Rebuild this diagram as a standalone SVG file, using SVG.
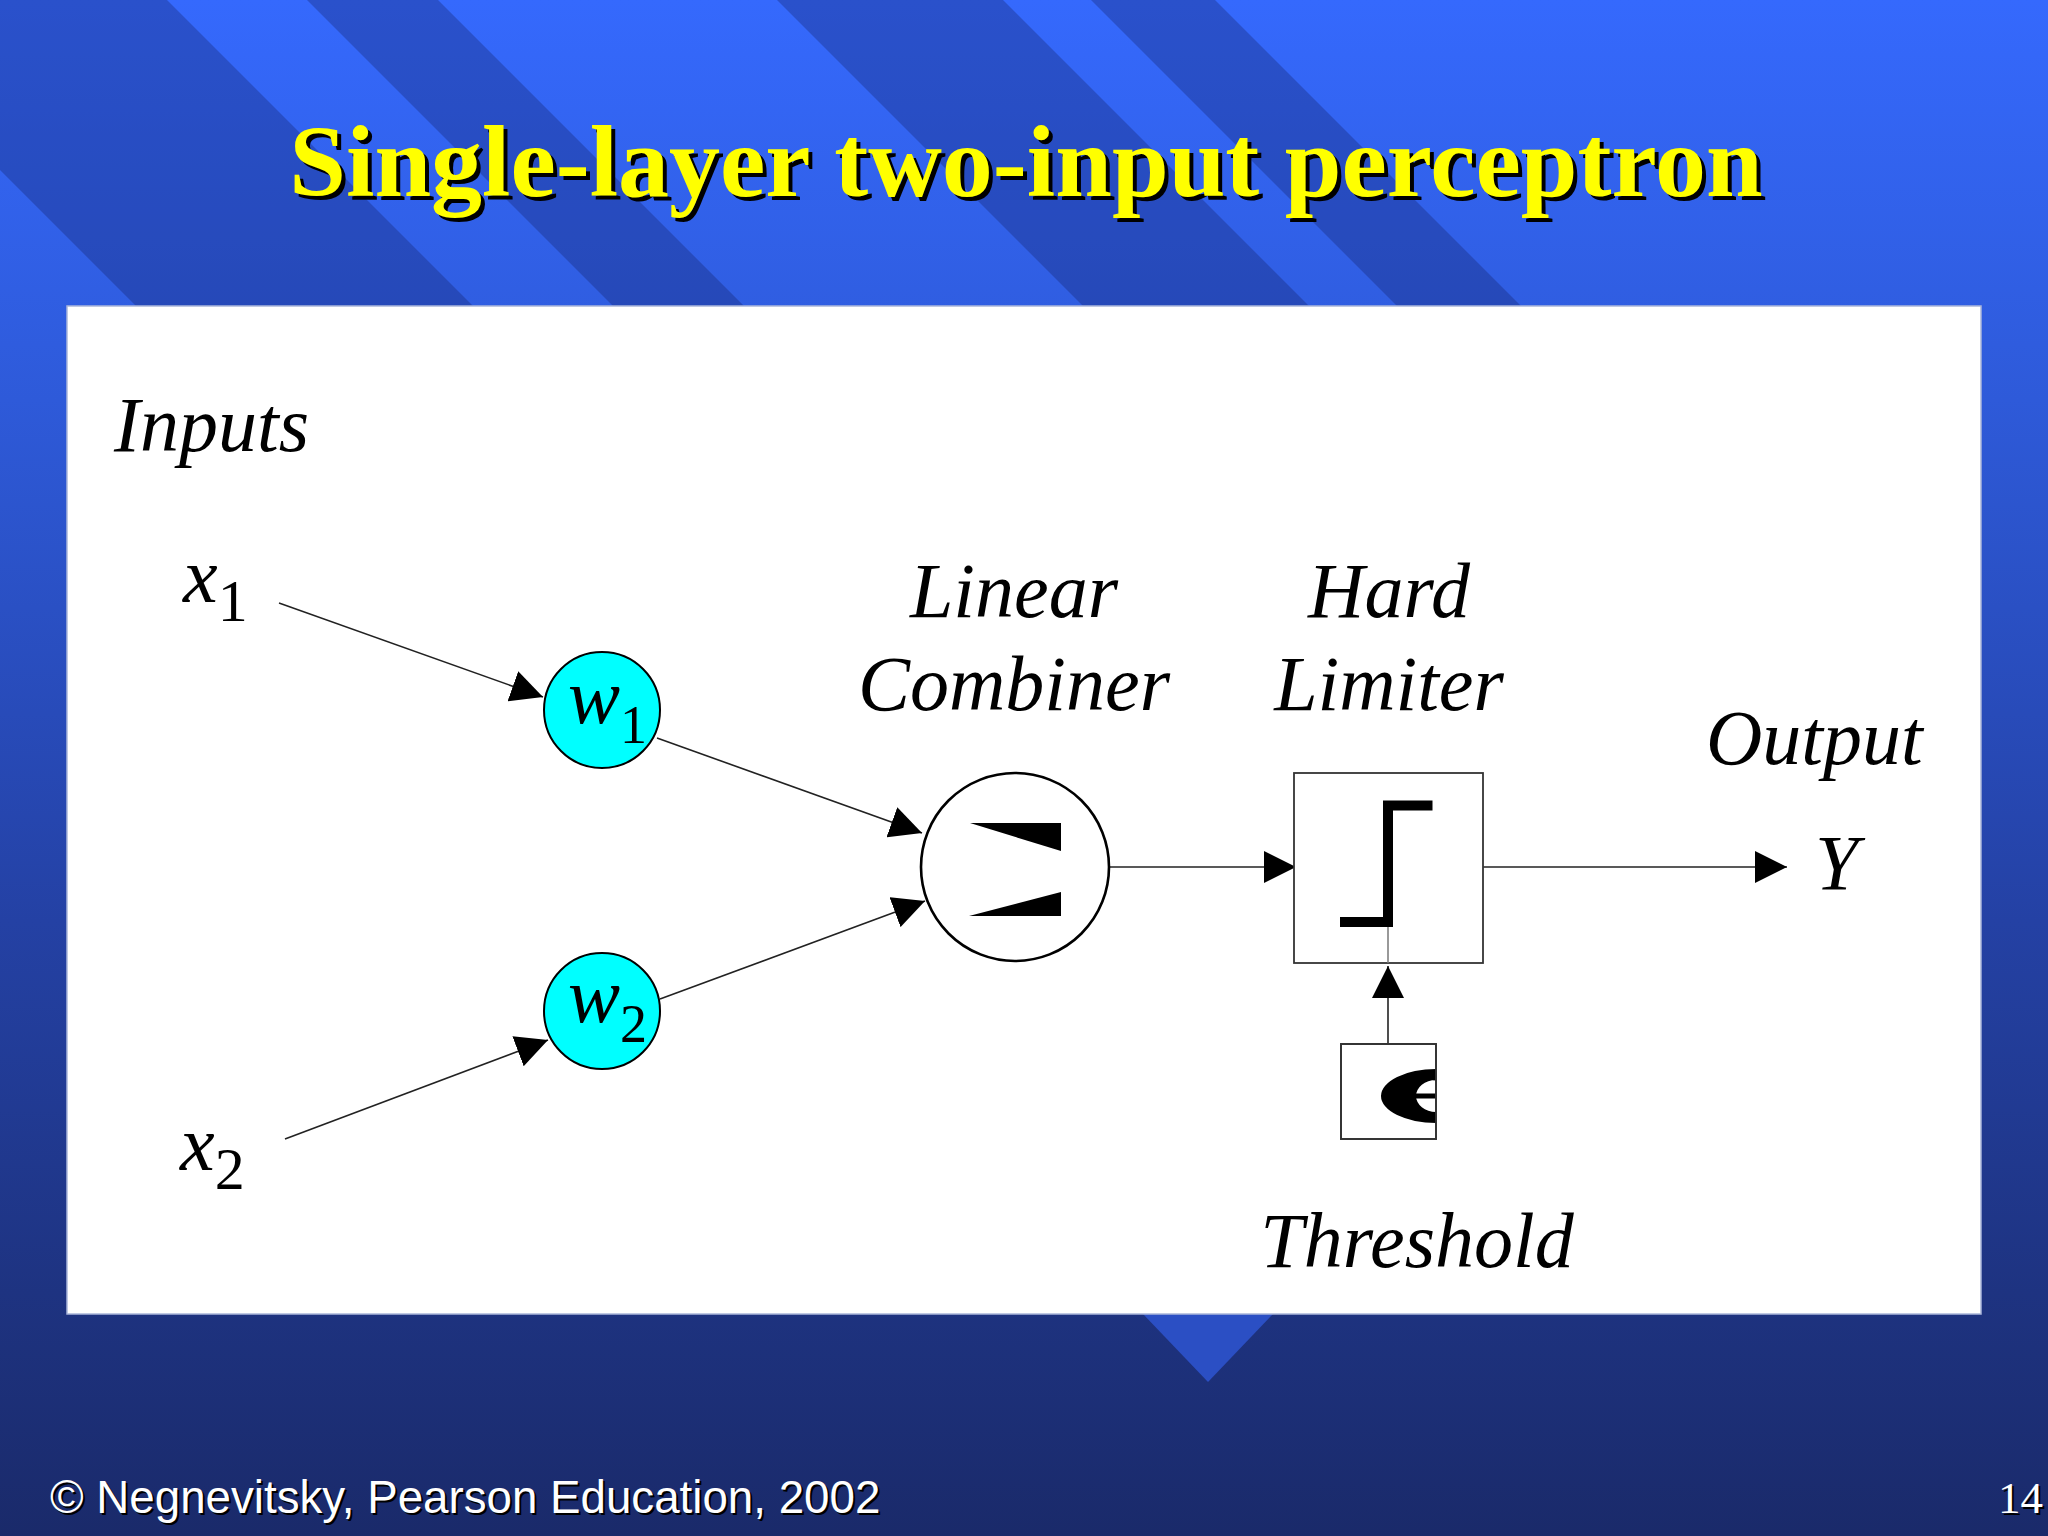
<svg xmlns="http://www.w3.org/2000/svg" width="2048" height="1536" viewBox="0 0 2048 1536">
  <defs>
    <linearGradient id="bg" x1="0" y1="0" x2="0" y2="1">
      <stop offset="0" stop-color="#3569fd"/>
      <stop offset="0.26" stop-color="#2e5ad9"/>
      <stop offset="0.6" stop-color="#2441a4"/>
      <stop offset="1" stop-color="#1a2a6a"/>
    </linearGradient>
    <marker id="arrow" markerUnits="userSpaceOnUse" markerWidth="32" markerHeight="32" refX="32" refY="16" orient="auto" viewBox="0 0 32 32">
      <path d="M0,0 L32,16 L0,32 Z" fill="#000"/>
    </marker>
    <clipPath id="thetaClip">
      <rect x="1341" y="1044" width="95" height="95"/>
    </clipPath>
  </defs>
  <style>
    .lbl { font-family: "Liberation Serif", "Times New Roman", serif; font-style: italic; font-size: 78px; fill: #000; }
    .conn { stroke: #222; stroke-width: 1.6; fill: none; }
    .box { fill: #fff; stroke: #333; stroke-width: 1.8; }
    .title { font-family: "Liberation Serif", "Times New Roman", serif; font-weight: bold; font-size: 102px; }
    .foot { font-family: "Liberation Sans", Arial, sans-serif; font-size: 45.7px; }
  </style>

  <!-- background -->
  <rect x="0" y="0" width="2048" height="1536" fill="url(#bg)"/>
  <g id="stripes" fill="#141e64" fill-opacity="0.32">
    <polygon points="-170,0 167,0 473,306 136,306"/>
    <polygon points="307,0 438,0 744,306 613,306"/>
    <polygon points="777,0 1003,0 1309,306 1083,306"/>
    <polygon points="1091,0 1215,0 1521,306 1397,306"/>
  </g>
  <polygon id="bottom-wedge" points="1143,1314 1273,1314 1208,1382" fill="#2b4fc4"/>

  <!-- title -->
  <g id="title">
    <text class="title" x="1030" y="200" text-anchor="middle" fill="#000">Single-layer two-input perceptron</text>
    <text class="title" x="1026" y="196" text-anchor="middle" fill="#ffff00">Single-layer two-input perceptron</text>
  </g>

  <!-- white panel -->
  <rect id="panel" x="67" y="306" width="1914" height="1008" fill="#ffffff" stroke="#aab6da" stroke-width="1.5"/>

  <!-- connectors -->
  <g id="connectors">
    <line class="conn" x1="279" y1="603" x2="543" y2="697" marker-end="url(#arrow)"/>
    <line class="conn" x1="285" y1="1139" x2="548" y2="1040" marker-end="url(#arrow)"/>
    <line class="conn" x1="657" y1="738" x2="922" y2="833" marker-end="url(#arrow)"/>
    <line class="conn" x1="660" y1="999" x2="925" y2="901" marker-end="url(#arrow)"/>
    <line class="conn" x1="1109" y1="867" x2="1296" y2="867" marker-end="url(#arrow)"/>
    <line class="conn" x1="1483" y1="867" x2="1787" y2="867" marker-end="url(#arrow)"/>
    <line class="conn" x1="1388" y1="1044" x2="1388" y2="966" marker-end="url(#arrow)"/>
  </g>

  <!-- labels -->
  <g id="inputs-label">
    <text class="lbl" x="114" y="451">Inputs</text>
  </g>
  <g id="x1">
    <text class="lbl" x="183" y="602">x<tspan font-style="normal" font-size="60" dy="19">1</tspan></text>
  </g>
  <g id="x2">
    <text class="lbl" x="180" y="1170">x<tspan font-style="normal" font-size="60" dy="19">2</tspan></text>
  </g>

  <g id="w1">
    <circle cx="602" cy="710" r="58" fill="#00ffff" stroke="#000" stroke-width="2"/>
    <text class="lbl" x="568" y="723" font-size="62">w<tspan font-style="normal" font-size="54" dy="20">1</tspan></text>
  </g>
  <g id="w2">
    <circle cx="602" cy="1011" r="58" fill="#00ffff" stroke="#000" stroke-width="2"/>
    <text class="lbl" x="568" y="1022" font-size="62">w<tspan font-style="normal" font-size="54" dy="20">2</tspan></text>
  </g>

  <g id="linear-combiner">
    <text class="lbl" x="1014" y="617" text-anchor="middle">Linear</text>
    <text class="lbl" x="1014" y="710" text-anchor="middle">Combiner</text>
    <circle cx="1015" cy="867" r="94" fill="#fff" stroke="#000" stroke-width="2.6"/>
    <polygon points="970,823 1061,823 1061,851" fill="#000"/>
    <polygon points="969,916 1061,892 1061,916" fill="#000"/>
  </g>

  <g id="hard-limiter">
    <text class="lbl" x="1389" y="617" text-anchor="middle">Hard</text>
    <text class="lbl" x="1389" y="710" text-anchor="middle">Limiter</text>
    <rect class="box" x="1294" y="773" width="189" height="190"/>
    <line x1="1388" y1="927" x2="1388" y2="963" stroke="#777" stroke-width="1.5"/>
    <polyline points="1340,922 1388,922 1388,805.5 1432.5,805.5" fill="none" stroke="#000" stroke-width="10" stroke-linejoin="miter" stroke-linecap="butt"/>
  </g>

  <g id="threshold">
    <rect class="box" x="1341" y="1044" width="95" height="95"/>
    <g clip-path="url(#thetaClip)">
      <path d="M1436,1069 A55,27 0 0 0 1436,1123 Z M1436,1080 A20,16 0 0 0 1436,1112 Z" fill="#000" fill-rule="evenodd"/>
      <rect x="1416" y="1093.5" width="20" height="5" fill="#000"/>
    </g>
    <rect x="1341" y="1044" width="95" height="95" fill="none" stroke="#333" stroke-width="1.8"/>
    <text class="lbl" x="1417" y="1267" text-anchor="middle">Threshold</text>
  </g>

  <g id="output">
    <text class="lbl" x="1706" y="764">Output</text>
    <text class="lbl" x="1815" y="889">Y</text>
  </g>

  <!-- footer -->
  <g id="footer">
    <text class="foot" x="52" y="1515" fill="#000">© Negnevitsky, Pearson Education, 2002</text>
    <text class="foot" x="50" y="1513" fill="#fff">© Negnevitsky, Pearson Education, 2002</text>
    <text x="2000" y="1515" font-family="Liberation Serif, serif" font-size="45" fill="#000">14</text>
    <text x="1998" y="1513" font-family="Liberation Serif, serif" font-size="45" fill="#fff">14</text>
  </g>
</svg>
